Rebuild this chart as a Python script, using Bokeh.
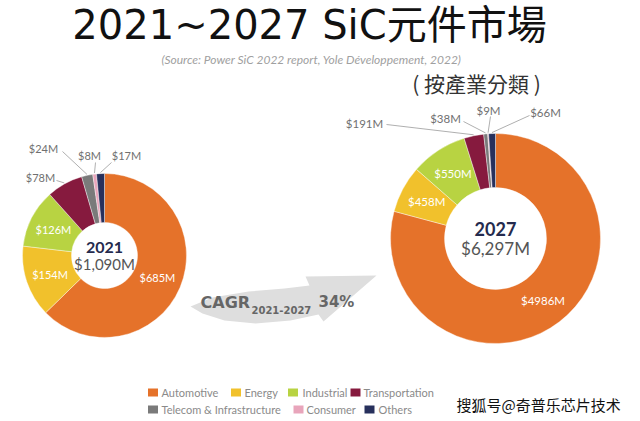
import math
from bokeh.plotting import figure
from bokeh.models import Range1d, ColumnDataSource
from bokeh.core.properties import value
from bokeh.embed import file_html
from bokeh.resources import INLINE

# ---------------- data ----------------
categories = ["Automotive", "Energy", "Industrial", "Transportation",
              "Telecom & Infrastructure", "Consumer", "Others"]
colors = ["#E5722A", "#F1C12C", "#B8D342", "#861A3E", "#7A7A7A", "#E8A5BB", "#27305C"]
values_2021 = [685, 154, 126, 78, 24, 8, 17]
values_2027 = [4986, 458, 550, 191, 38, 9, 66]
labels_2021 = ["$685M", "$154M", "$126M", "$78M", "$24M", "$8M", "$17M"]
labels_2027 = ["$4986M", "$458M", "$550M", "$191M", "$38M", "$9M", "$66M"]
years = ["2021", "2027"]
totals = ["$1,090M", "$6,297M"]
cagr_period = "2021-2027"
cagr_value = "34%"
title = "2021~2027 SiC元件市場"
source_note = "(Source: Power SiC 2022 report, Yole Développement, 2022)"
subtitle = "( 按產業分類 )"
watermark = "搜狐号@奇普乐芯片技术"

# ---------------- layout ----------------
W, H = 640, 421


def X(x):
    return x


def Y(y):
    return H - y


p = figure(width=W, height=H, x_range=Range1d(0, W), y_range=Range1d(0, H),
           output_backend="svg", toolbar_location=None, min_border=0,
           x_axis_location=None, y_axis_location=None)
p.grid.visible = False
p.outline_line_color = None
p.background_fill_color = "white"

LABEL_FONT = value("Lato")
CJK_TC = value("Noto Sans CJK TC")


def donut(vals, labels, cx, cy, r_in, r_out, outer_pos, year, total, yr_size, tot_size, lab_size):
    tot = float(sum(vals))
    starts, ends, mids = [], [], []
    cum = 0.0
    for v in vals:
        starts.append(math.pi / 2 - 2 * math.pi * cum / tot)
        ends.append(math.pi / 2 - 2 * math.pi * (cum + v) / tot)
        mids.append(math.pi / 2 - 2 * math.pi * (cum + v / 2) / tot)
        cum += v
    src = ColumnDataSource(dict(start=starts, end=ends, color=colors))
    p.annular_wedge(x=X(cx), y=Y(cy), inner_radius=r_in, outer_radius=r_out,
                    start_angle="start", end_angle="end", direction="clock",
                    fill_color="color", line_color="white", line_width=0.4, source=src)
    rm = (r_in + r_out) / 2
    in_x, in_y, in_t = [], [], []
    out_x, out_y, out_t = [], [], []
    lx0, ly0, lx1, ly1 = [], [], [], []
    for i, v in enumerate(vals):
        if i not in outer_pos:
            in_x.append(X(cx) + rm * math.cos(mids[i]))
            in_y.append(Y(cy) + rm * math.sin(mids[i]))
            in_t.append(labels[i])
        else:
            (tx, ty), (sx, sy) = outer_pos[i]
            out_x.append(X(tx)); out_y.append(Y(ty)); out_t.append(labels[i])
            lx0.append(X(sx)); ly0.append(Y(sy))
            lx1.append(X(cx) + (r_out + 1) * math.cos(mids[i]))
            ly1.append(Y(cy) + (r_out + 1) * math.sin(mids[i]))
    p.segment(x0=lx0, y0=ly0, x1=lx1, y1=ly1, line_color="#9a9a9a", line_width=0.8)
    p.text(x=in_x, y=in_y, text=in_t, text_color="white", text_font=LABEL_FONT,
           text_font_size=lab_size, text_align="center", text_baseline="middle")
    p.text(x=out_x, y=out_y, text=out_t, text_color="#707070", text_font=LABEL_FONT,
           text_font_size=lab_size, text_align="center", text_baseline="middle")
    p.text(x=[X(cx)], y=[Y(cy)], text=[year], text_color="#252B4E",
           text_font=LABEL_FONT, text_font_style="bold", text_font_size=yr_size,
           text_align="center", text_baseline="bottom", y_offset=-3)
    p.text(x=[X(cx)], y=[Y(cy)], text=[total], text_color="#555555",
           text_font=LABEL_FONT, text_font_size=tot_size,
           text_align="center", text_baseline="top", y_offset=-1)


# outer label positions: (label centre, leader start) in page pixels
outer_2021 = {3: ((40, 177), (56, 180)), 4: ((43, 148), (62, 151)),
              5: ((89, 155), (95, 162)), 6: ((126, 155), (111, 162))}
outer_2027 = {3: ((364, 123), (386, 124)), 4: ((445, 118), (463, 121)),
              5: ((488, 110), (490, 116)), 6: ((545, 112), (529, 115))}

donut(values_2021, labels_2021, 104, 255, 33, 82, outer_2021, years[0], totals[0],
      "16px", "15px", "11px")
donut(values_2027, labels_2027, 495, 238, 51, 105, outer_2027, years[1], totals[1],
      "18px", "17px", "11.5px")

# ---------------- CAGR arrow ----------------
arrow_ref = [(190, 306), (212, 297), (248, 291), (284, 288), (309, 285), (305, 276),
             (376, 275), (323, 321), (318, 314), (290, 320), (255, 323), (224, 320), (202, 313)]
p.patch(x=[X(a) for a, b in arrow_ref], y=[Y(b) for a, b in arrow_ref],
        fill_color="#DEDEDE", line_color=None)
CAGR_FONT = value("DejaVu Sans")
p.text(x=[X(200)], y=[Y(302)], text=["CAGR"], text_color="#666666", text_font=CAGR_FONT,
       text_font_style="bold", text_font_size="16px", text_baseline="middle")
p.text(x=[X(251)], y=[Y(309)], text=[cagr_period], text_color="#666666", text_font=CAGR_FONT,
       text_font_style="bold", text_font_size="10px", text_baseline="middle")
p.text(x=[X(318)], y=[Y(301)], text=[cagr_value], text_color="#666666", text_font=CAGR_FONT,
       text_font_style="bold", text_font_size="15px", text_baseline="middle")

# ---------------- titles ----------------
p.text(x=[X(309)], y=[Y(24)], text=[title], text_color="#111111",
       text_font=value("DejaVu Sans, Noto Sans CJK TC"),
       text_font_size="40px", text_align="center", text_baseline="alphabetic")
p.text(x=[X(311)], y=[Y(59)], text=[source_note], text_color="#A0A0A0", text_font=LABEL_FONT,
       text_font_style="italic", text_font_size="12px", text_align="center",
       text_baseline="middle")
p.text(x=[X(476)], y=[Y(82)], text=[subtitle], text_color="#333333", text_font=CJK_TC,
       text_font_size="21px", text_align="center", text_baseline="middle")

# ---------------- legend ----------------
leg_sq_x = [152.5, 235.5, 292.5, 355, 152.5, 298, 369]
leg_tx_x = [161, 244, 302, 363, 161, 306, 378]
leg_y = [392, 392, 392, 392, 409, 409, 409]
p.rect(x=[X(v) for v in leg_sq_x], y=[Y(v) for v in leg_y], width=10, height=8,
       width_units="screen", height_units="screen", fill_color=colors, line_color=None)
p.text(x=[X(v) for v in leg_tx_x], y=[Y(v) for v in leg_y], text=categories,
       text_color="#8A8A8A", text_font=LABEL_FONT, text_font_size="11px",
       text_baseline="middle")

# ---------------- watermark ----------------
p.text(x=[X(456)], y=[Y(404)], text=[watermark], text_color="#111111",
       text_font=value("Noto Sans CJK SC"), text_font_size="15px", text_baseline="middle")

open("out.html", "w").write(file_html(p, INLINE))
